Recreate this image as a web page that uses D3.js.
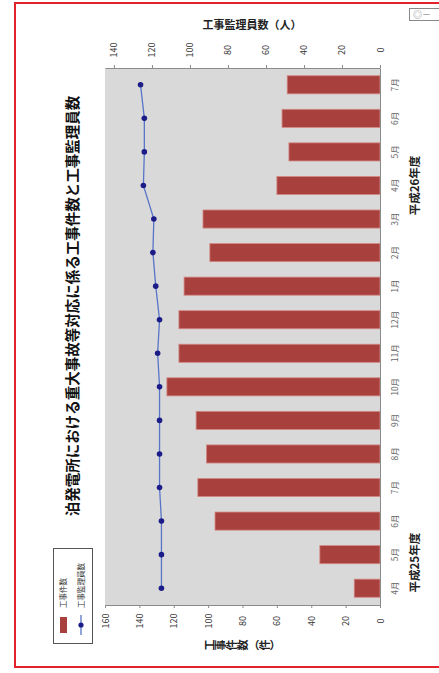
<!DOCTYPE html>
<html>
<head>
<meta charset="utf-8">
<script src="https://cdn.jsdelivr.net/npm/d3@7"></script>
<style>
  body { margin: 0; background: #fff; }
  svg text { font-family: "Noto Sans CJK JP", "Noto Sans", sans-serif; }
</style>
</head>
<body>
<svg width="439" height="673"></svg>
<script>
// chart is drawn turned a quarter turn to the left, like the scan
var months = ["4月", "5月", "6月", "7月", "8月", "9月", "10月", "11月", "12月",
              "1月", "2月", "3月", "4月", "5月", "6月", "7月"];
var works = [15, 35, 96, 106, 101, 107, 124, 117, 117, 114, 99, 103, 60, 53, 57, 54];
var staff = [115, 115, 115, 116, 116, 116, 116, 117, 116, 118, 119.5, 119, 124.5, 124, 124, 126];
var worksTicks = [0, 20, 40, 60, 80, 100, 120, 140, 160];
var staffTicks = [0, 20, 40, 60, 80, 100, 120, 140];
var fiscalYears = ["平成25年度", "平成26年度"];
var fiscalCentre = [1, 12]; // index of the month each label sits on

function drawChart() {
  var svg = d3.select("svg");

  var barColor = "#a8413e",
      lineColor = "#5874c8",
      dotColor = "#1c1c88";

  // red frame
  svg.append("rect")
    .attr("x", 15).attr("y", 3)
    .attr("width", 440).attr("height", 664)
    .attr("fill", "none")
    .attr("stroke", "#e3232c")
    .attr("stroke-width", 2);

  // little box top right
  svg.append("rect")
    .attr("x", 409.5).attr("y", 8.5)
    .attr("width", 40).attr("height", 12)
    .attr("fill", "#fff").attr("stroke", "#888");
  svg.append("text")
    .attr("x", 413).attr("y", 18)
    .attr("font-size", 9).attr("fill", "#888")
    .text("◎－");

  var pLeft = 105, pRight = 380, pTop = 68, pBottom = 605;

  var y = d3.scaleBand()
    .domain(d3.range(months.length))
    .range([pBottom, pTop]);

  var xWorks = d3.scaleLinear().domain([0, 160]).range([pRight, pLeft]);
  var xStaff = d3.scaleLinear().domain([0, 144.7]).range([pRight, pLeft]);

  svg.append("rect")
    .attr("x", pLeft).attr("y", pTop)
    .attr("width", pRight - pLeft).attr("height", pBottom - pTop)
    .attr("fill", "#d9d9d9");

  // bars
  var bw = y.bandwidth() * 0.54;
  svg.append("g")
    .selectAll("rect")
    .data(works)
    .enter().append("rect")
      .attr("x", function(d) { return xWorks(d); })
      .attr("y", function(d, i) { return y(i) + (y.bandwidth() - bw) / 2; })
      .attr("width", function(d) { return xWorks(0) - xWorks(d); })
      .attr("height", bw)
      .attr("fill", barColor)
      .attr("stroke", "#d48a86")
      .attr("stroke-width", 0.8);

  // line
  var line = d3.line()
    .x(function(d) { return xStaff(d); })
    .y(function(d, i) { return y(i) + y.bandwidth() / 2; });

  svg.append("path")
    .datum(staff)
    .attr("d", line)
    .attr("fill", "none")
    .attr("stroke", lineColor)
    .attr("stroke-width", 1.3);

  svg.append("g")
    .selectAll("circle")
    .data(staff)
    .enter().append("circle")
      .attr("cx", function(d) { return xStaff(d); })
      .attr("cy", function(d, i) { return y(i) + y.bandwidth() / 2; })
      .attr("r", 2.8)
      .attr("fill", dotColor);

  // axes
  function styleAxis(g) {
    g.select(".domain").attr("stroke", "#8a8a8a");
    g.selectAll(".tick line").attr("stroke", "#8a8a8a");
    g.selectAll(".tick text")
      .attr("fill", "#333")
      .attr("font-size", 9)
      .attr("text-anchor", "middle");
  }

  var axB = svg.append("g")
    .attr("transform", "translate(0," + pBottom + ")")
    .call(d3.axisBottom(xWorks).tickValues(worksTicks).tickSize(3).tickSizeOuter(0));
  styleAxis(axB);
  axB.selectAll(".tick text")
    .attr("x", null).attr("y", null).attr("dy", null)
    .attr("transform", "translate(3,16) rotate(-90)");

  var axT = svg.append("g")
    .attr("transform", "translate(0," + pTop + ")")
    .call(d3.axisTop(xStaff).tickValues(staffTicks).tickSize(3).tickSizeOuter(0));
  styleAxis(axT);
  axT.selectAll(".tick text")
    .attr("x", null).attr("y", null).attr("dy", null)
    .attr("transform", "translate(3,-18) rotate(-90)");

  var axR = svg.append("g")
    .attr("transform", "translate(" + pRight + ",0)")
    .call(d3.axisRight(y).tickSize(0).tickFormat(function(i) { return months[i]; }));
  styleAxis(axR);
  axR.selectAll(".tick text")
    .attr("x", null).attr("y", null).attr("dy", null)
    .attr("fill", "#666")
    .attr("font-size", 8.5)
    .attr("transform", "translate(18,0) rotate(-90)");

  // fiscal year labels
  svg.append("g")
    .selectAll("text")
    .data(fiscalYears)
    .enter().append("text")
      .attr("transform", function(d, i) {
        return "translate(419," + (y(fiscalCentre[i]) + y.bandwidth() / 2 + (i === 0 ? 8 : 0)) + ") rotate(-90)";
      })
      .attr("text-anchor", "middle")
      .attr("font-size", 11.5)
      .attr("font-weight", "bold")
      .attr("fill", "#222")
      .text(function(d) { return d; });

  // title
  svg.append("text")
    .attr("transform", "translate(78,306) rotate(-90)")
    .attr("text-anchor", "middle")
    .attr("font-size", 14.5)
    .attr("font-weight", "bold")
    .attr("fill", "#111")
    .text("泊発電所における重大事故等対応に係る工事件数と工事監理員数");

  // axis titles
  svg.append("text")
    .attr("x", 252).attr("y", 29)
    .attr("text-anchor", "middle")
    .attr("font-size", 11)
    .attr("font-weight", "bold")
    .attr("fill", "#222")
    .text("工事監理員数（人）");

  svg.append("text")
    .attr("transform", "translate(243,645) rotate(-90)")
    .attr("text-anchor", "middle")
    .attr("font-size", 11)
    .attr("font-weight", "bold")
    .attr("fill", "#222")
    .style("writing-mode", "vertical-rl")
    .style("text-orientation", "upright")
    .text("工事件数（件）");

  // legend
  var lg = svg.append("g");
  lg.append("rect")
    .attr("x", 53.5).attr("y", 548.5)
    .attr("width", 39).attr("height", 95)
    .attr("fill", "#fff").attr("stroke", "#555");
  lg.append("rect")
    .attr("x", 60).attr("y", 617)
    .attr("width", 7).attr("height", 16)
    .attr("fill", barColor);
  lg.append("line")
    .attr("x1", 81).attr("x2", 81).attr("y1", 615).attr("y2", 635)
    .attr("stroke", lineColor).attr("stroke-width", 1.3);
  lg.append("circle")
    .attr("cx", 81).attr("cy", 625).attr("r", 2.6).attr("fill", dotColor);
  lg.selectAll("text.lbl")
    .data(["工事件数", "工事監理員数"])
    .enter().append("text")
      .attr("class", "lbl")
      .attr("transform", function(d, i) { return "translate(" + (66 + i * 18) + ",608) rotate(-90)"; })
      .attr("font-size", 7.5)
      .attr("fill", "#333")
      .text(function(d) { return d; });
}

drawChart();
</script>
</body>
</html>
